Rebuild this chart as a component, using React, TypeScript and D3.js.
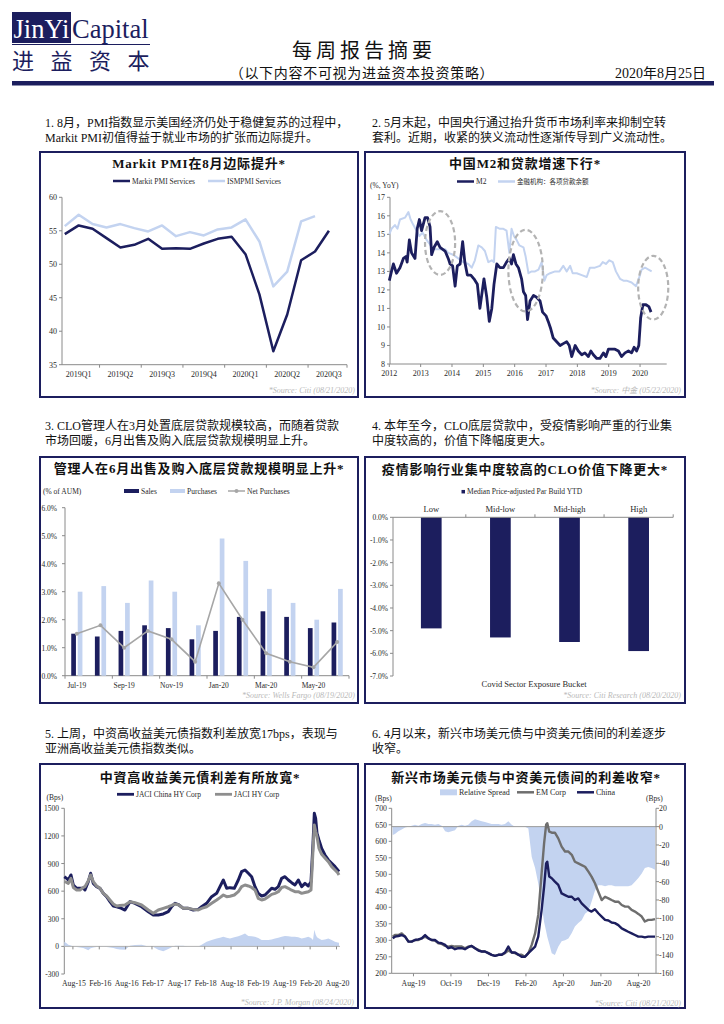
import React from "react";
import * as d3 from "d3";

// ---------- style constants ----------
const NAVY = "#1c1e5e";
const LIGHT = "#c3d3f0";
const GREY = "#8e8e8e";
const AXIS = "#8a8a8a";
const INK = "#2a2a2a";
const SRC = "#b9b9b9";
const SERIF = "'Liberation Serif','Times New Roman',serif";
const MIX = "'Liberation Serif','Noto Sans CJK SC',serif";
const MIX_TC = "'Liberation Serif','Noto Sans CJK TC',serif";

// ---------- header & commentary ----------
const reportTitle = "每周报告摘要";
const reportSubtitle = "（以下内容不可视为进益资本投资策略）";
const reportDate = "2020年8月25日";
const para1 = ["1. 8月，PMI指数显示美国经济仍处于稳健复苏的过程中，", "Markit PMI初值得益于就业市场的扩张而边际提升。"];
const para2 = ["2. 5月末起，中国央行通过抬升货币市场利率来抑制空转", "套利。近期，收紧的狭义流动性逐渐传导到广义流动性。"];
const para3 = ["3. CLO管理人在3月处置底层贷款规模较高，而随着贷款", "市场回暖，6月出售及购入底层贷款规模明显上升。"];
const para4 = ["4. 本年至今，CLO底层贷款中，受疫情影响严重的行业集", "中度较高的，价值下降幅度更大。"];
const para5 = ["5. 上周，中资高收益美元债指数利差放宽17bps，表现与", "亚洲高收益美元债指数类似。"];
const para6 = ["6. 4月以来，新兴市场美元债与中资美元债间的利差逐步", "收窄。"];

// ---------- chart 1: PMI ----------
const pmiQuarters = ["2019Q1", "2019Q2", "2019Q3", "2019Q4", "2020Q1", "2020Q2", "2020Q3"];
const markitPMI = [54.5, 55.8, 55.3, 53.9, 52.5, 52.9, 53.8, 52.3, 52.4, 52.3, 53.1, 53.8, 54.1, 51.5, 45.5, 37.0, 42.5, 50.6, 51.9, 55.0];
const ismPMI = [55.7, 57.4, 56.0, 55.5, 56.0, 55.4, 54.9, 55.8, 54.2, 54.8, 54.3, 55.2, 55.5, 56.7, 53.4, 46.7, 48.9, 56.4, 57.2];

// ---------- chart 2: M2 & loans ----------
const m2Years = ["2012", "2013", "2014", "2015", "2016", "2017", "2018", "2019", "2020"];
const m2Series: [number, number][] = [[2012.00,12.5],[2012.07,13.0],[2012.13,13.4],[2012.23,12.9],[2012.34,13.2],[2012.45,13.7],[2012.53,13.8],[2012.57,13.5],[2012.64,14.7],[2012.71,14.0],[2012.82,13.7],[2012.89,15.3],[2012.96,15.8],[2013.03,15.2],[2013.14,15.9],[2013.22,15.9],[2013.30,15.4],[2013.35,13.9],[2013.43,14.3],[2013.53,14.6],[2013.62,14.3],[2013.78,14.1],[2013.88,13.7],[2013.94,13.4],[2014.02,13.3],[2014.10,12.2],[2014.17,13.3],[2014.26,13.4],[2014.34,14.6],[2014.41,13.5],[2014.49,12.8],[2014.60,12.8],[2014.70,12.6],[2014.81,12.3],[2014.89,11.0],[2015.02,12.6],[2015.11,11.6],[2015.19,10.3],[2015.27,11.0],[2015.34,12.3],[2015.43,13.4],[2015.53,13.2],[2015.64,13.2],[2015.74,13.5],[2015.83,13.7],[2015.90,13.4],[2015.96,13.9],[2016.04,13.4],[2016.12,13.2],[2016.22,12.6],[2016.28,11.9],[2016.35,11.7],[2016.41,10.4],[2016.49,11.4],[2016.60,11.7],[2016.70,11.6],[2016.81,11.4],[2016.89,10.8],[2017.00,10.6],[2017.07,10.3],[2017.15,9.9],[2017.23,9.4],[2017.34,9.2],[2017.45,9.0],[2017.55,9.1],[2017.66,9.2],[2017.74,9.0],[2017.82,8.4],[2017.93,9.0],[2018.03,8.7],[2018.14,8.5],[2018.24,8.6],[2018.35,8.4],[2018.43,8.7],[2018.51,8.5],[2018.62,8.3],[2018.72,8.3],[2018.83,8.6],[2018.91,8.4],[2018.99,8.8],[2019.10,8.8],[2019.20,8.8],[2019.31,8.7],[2019.41,8.4],[2019.52,8.6],[2019.63,8.7],[2019.73,8.6],[2019.81,8.9],[2019.89,8.7],[2019.96,9.0],[2020.02,10.5],[2020.09,11.2],[2020.19,11.2],[2020.28,11.1],[2020.35,10.8]];
const loanSeries: [number, number][] = [[2012.00,15.0],[2012.07,15.3],[2012.18,15.5],[2012.26,15.3],[2012.34,15.8],[2012.50,15.9],[2012.61,16.2],[2012.68,15.8],[2012.77,15.5],[2012.87,15.2],[2012.96,14.9],[2013.06,15.1],[2013.19,14.7],[2013.28,14.5],[2013.35,14.3],[2013.46,14.2],[2013.62,14.2],[2013.78,14.2],[2013.88,14.0],[2014.04,13.9],[2014.20,13.7],[2014.36,13.5],[2014.52,13.4],[2014.63,13.2],[2014.73,13.6],[2014.84,14.4],[2014.95,14.3],[2015.05,14.1],[2015.16,13.5],[2015.27,13.6],[2015.34,13.5],[2015.40,15.4],[2015.53,15.3],[2015.64,15.3],[2015.74,15.2],[2015.83,14.0],[2015.90,15.3],[2015.98,14.9],[2016.06,14.7],[2016.15,14.4],[2016.28,14.3],[2016.35,13.8],[2016.44,12.9],[2016.54,13.0],[2016.65,13.0],[2016.76,13.1],[2016.86,13.5],[2016.95,12.5],[2017.02,12.8],[2017.13,12.9],[2017.29,13.0],[2017.43,13.0],[2017.55,13.3],[2017.66,13.0],[2017.77,13.3],[2017.85,12.9],[2017.98,12.9],[2018.14,12.8],[2018.30,12.7],[2018.40,13.2],[2018.56,13.2],[2018.72,13.3],[2018.81,13.5],[2018.91,13.4],[2019.02,13.6],[2019.13,13.5],[2019.23,13.0],[2019.36,12.6],[2019.47,12.5],[2019.57,12.5],[2019.73,12.4],[2019.87,12.2],[2019.98,12.7],[2020.05,13.1],[2020.16,13.2],[2020.27,13.1],[2020.37,13.0]];
const m2Highlights = [
  { cx: 2013.62, cy: 14.53, rx: 0.48, ry: 1.72 },
  { cx: 2016.35, cy: 13.04, rx: 0.55, ry: 2.2 },
  { cx: 2020.42, cy: 12.12, rx: 0.48, ry: 1.72 },
];

// ---------- chart 3: CLO sales & purchases ----------
const cloMonths = ["Jul-19", "Aug-19", "Sep-19", "Oct-19", "Nov-19", "Dec-19", "Jan-20", "Feb-20", "Mar-20", "Apr-20", "May-20", "Jun-20"];
const cloSales = [1.5, 1.4, 1.6, 1.8, 1.7, 1.3, 1.6, 2.1, 2.3, 2.1, 1.7, 1.9];
const cloPurchases = [3.0, 3.2, 2.6, 3.4, 3.0, 1.8, 4.9, 4.1, 3.1, 2.6, 2.0, 3.1];
const cloNet = [1.5, 1.8, 1.0, 1.6, 1.3, 0.5, 3.3, 2.0, 0.8, 0.5, 0.3, 1.2];

// ---------- chart 4: par build by bucket ----------
const buckets = ["Low", "Mid-low", "Mid-high", "High"];
const parBuild = [-4.9, -5.3, -5.5, -5.9];

// ---------- chart 5: JACI spreads ----------
const jaciTicks = ["Aug-15", "Feb-16", "Aug-16", "Feb-17", "Aug-17", "Feb-18", "Aug-18", "Feb-19", "Aug-19", "Feb-20", "Aug-20"];
const jaciDates = [2015.420,2015.464,2015.496,2015.546,2015.591,2015.654,2015.717,2015.780,2015.812,2015.875,2015.920,2015.970,2016.033,2016.097,2016.160,2016.223,2016.286,2016.350,2016.413,2016.476,2016.571,2016.666,2016.761,2016.887,2017.014,2017.108,2017.203,2017.298,2017.393,2017.456,2017.520,2017.595,2017.678,2017.773,2017.867,2017.962,2018.025,2018.120,2018.215,2018.310,2018.373,2018.437,2018.500,2018.563,2018.645,2018.721,2018.784,2018.848,2018.911,2018.974,2019.037,2019.100,2019.164,2019.227,2019.290,2019.353,2019.417,2019.480,2019.543,2019.606,2019.670,2019.733,2019.796,2019.859,2019.923,2019.986,2020.049,2020.100,2020.138,2020.163,2020.188,2020.214,2020.251,2020.302,2020.365,2020.429,2020.492,2020.555,2020.606,2020.631];
const jaciChina = [757,739,721,776,667,631,631,631,613,703,794,685,649,631,576,540,486,439,431,420,395,486,468,431,377,341,341,352,377,431,468,450,413,413,395,402,431,468,540,576,649,721,631,638,631,721,812,830,794,757,649,576,547,558,594,631,620,649,739,757,721,692,667,721,649,685,656,703,1120,1446,1391,1228,1156,1065,993,939,902,866,830,812];
const jaciHY = [703,695,685,739,640,613,613,640,649,714,776,703,656,631,576,547,504,461,439,445,450,486,475,450,395,359,395,413,431,445,461,450,413,413,402,395,413,431,468,504,530,558,540,545,558,594,649,667,656,640,613,522,504,515,540,565,576,594,640,649,631,610,594,594,576,585,594,613,1047,1319,1250,1192,1065,1000,960,920,866,830,800,776];
const jaciDiff = [51,35,18,10,0,-7,-12,-18,-25,-43,-20,-11,-8,-7,-5,-7,-12,-18,-29,-33,-36,7,14,18,0,-7,-36,-54,-29,-10,7,7,7,0,0,0,18,51,69,87,95,105,95,87,98,110,123,141,112,110,105,90,69,69,69,75,87,95,105,112,110,105,105,100,87,95,105,90,69,181,130,100,87,69,75,87,70,51,43,40];

// ---------- chart 6: EM vs China ----------
const emTicks = ["Aug-19", "Oct-19", "Dec-19", "Feb-20", "Apr-20", "Jun-20", "Aug-20"];
const emDates = [2019.491,2019.501,2019.516,2019.531,2019.546,2019.561,2019.575,2019.590,2019.605,2019.620,2019.635,2019.650,2019.664,2019.679,2019.694,2019.709,2019.724,2019.738,2019.753,2019.768,2019.783,2019.798,2019.812,2019.827,2019.842,2019.857,2019.872,2019.887,2019.901,2019.916,2019.931,2019.946,2019.961,2019.975,2019.990,2020.005,2020.020,2020.035,2020.050,2020.064,2020.079,2020.094,2020.109,2020.124,2020.138,2020.153,2020.164,2020.173,2020.178,2020.187,2020.198,2020.212,2020.227,2020.242,2020.257,2020.272,2020.287,2020.301,2020.316,2020.331,2020.346,2020.361,2020.375,2020.390,2020.405,2020.420,2020.435,2020.450,2020.464,2020.479,2020.494,2020.509,2020.524,2020.538,2020.553,2020.568,2020.583,2020.598,2020.612,2020.627,2020.642,2020.657];
const emChina = [306,311,313,316,311,296,296,301,303,306,316,306,301,301,293,291,286,276,279,273,276,276,273,279,283,276,269,266,266,261,256,253,256,256,263,281,263,263,256,250,250,261,271,281,311,392,463,533,538,493,488,478,468,442,437,432,432,422,427,412,402,392,387,394,382,372,362,360,354,352,346,336,331,326,321,316,311,311,309,311,311,311];
const emCorp = [311,316,316,321,311,296,296,301,301,306,311,306,301,299,291,289,283,281,283,281,281,281,276,281,283,276,271,266,266,261,256,253,256,256,261,269,263,261,256,256,250,261,286,321,377,503,594,650,655,629,626,626,609,584,569,569,559,538,533,528,523,508,493,473,447,422,432,427,422,417,417,407,402,402,392,387,380,372,357,362,362,364];
const emRelative = [-9,-8,-5,-3,-1,0,1,2,1,3,4,3,3,2,3,1,-5,-6,-5,-4,1,2,1,2,6,8,7,6,5,4,3,3,3,2,3,6,2,0,0,0,0,-2,-33,-45,-62,-85,-104,-114,-120,-128,-138,-140,-131,-125,-124,-122,-116,-109,-105,-102,-95,-92,-82,-70,-64,-64,-65,-64,-64,-65,-65,-65,-65,-65,-64,-60,-56,-51,-45,-44,-45,-47];

// ---------- helpers ----------
const labelToYear = (label: string) => {
  const d = d3.timeParse("%b-%y")(label) as Date;
  return d.getFullYear() + d.getMonth() / 12;
};

function Box({ x, y, w, h }: { x: number; y: number; w: number; h: number }) {
  return <rect x={x} y={y} width={w} height={h} fill="#fff" stroke={NAVY} strokeWidth={2} />;
}
function Title({ x, y, text, tc }: { x: number; y: number; text: string; tc?: boolean }) {
  return (
    <text x={x} y={y} textAnchor="middle" fontSize={13} fontWeight={700} letterSpacing={0.8} fill="#111" fontFamily={tc ? MIX_TC : MIX}>
      {text}
    </text>
  );
}
function Source({ x, y, text }: { x: number; y: number; text: string }) {
  return (
    <text x={x} y={y} textAnchor="end" fontSize={8} fontStyle="italic" fill={SRC} fontFamily={MIX}>
      {text}
    </text>
  );
}
function LegendLine({ x, y, color, label, w = 17, sw = 2.5, size = 7.5, dot }: any) {
  return (
    <g>
      <line x1={x} x2={x + w} y1={y} y2={y} stroke={color} strokeWidth={sw} />
      {dot && <circle cx={x + w / 2} cy={y} r={2} fill={color} />}
      <text x={x + w + 2} y={y + 2.7} fontSize={size} fill={INK} fontFamily={MIX}>
        {label}
      </text>
    </g>
  );
}
function LegendRect({ x, y, w, h, color, label, size = 7.5 }: any) {
  return (
    <g>
      <rect x={x} y={y - h / 2} width={w} height={h} fill={color} />
      <text x={x + w + 2} y={y + 2.7} fontSize={size} fill={INK} fontFamily={MIX}>
        {label}
      </text>
    </g>
  );
}

// ---------- header ----------
function Header() {
  return (
    <g>
      <rect x={12} y={12} width={59} height={31} fill={NAVY} />
      <text x={13.5} y={37.5} fontSize={26.5} fill="#fff" fontFamily={SERIF}>JinYi</text>
      <text x={72} y={37.5} fontSize={26.5} fill={NAVY} fontFamily={SERIF}>Capital</text>
      <line x1={12} x2={150} y1={44.5} y2={44.5} stroke={NAVY} strokeWidth={1} />
      <text x={12} y={69} fontSize={22} fill={NAVY} letterSpacing={16.5} fontFamily="'Noto Sans CJK SC'">进益资本</text>
      <text x={364} y={58} textAnchor="middle" fontSize={20} letterSpacing={4} fill="#111" fontFamily="'Noto Sans CJK SC'">{reportTitle}</text>
      <text x={362} y={77.5} textAnchor="middle" fontSize={14} letterSpacing={0.7} fill="#111" fontFamily="'Noto Sans CJK SC'">{reportSubtitle}</text>
      <text x={706} y={77.5} textAnchor="end" fontSize={14} fill="#111" fontFamily={MIX}>{reportDate}</text>
      <rect x={12} y={81} width={702} height={4.5} fill={NAVY} />
    </g>
  );
}

function Para({ x, y, lines }: { x: number; y: number; lines: string[] }) {
  return (
    <text fontSize={12} fill="#111" fontFamily={MIX}>
      {lines.map((l, i) => (
        <tspan key={i} x={x} y={y + i * 15}>{l}</tspan>
      ))}
    </text>
  );
}

// ---------- chart 1 ----------
function Chart1() {
  const x = d3.scaleLinear().domain([-0.2, 20.3]).range([62, 347]);
  const y = d3.scaleLinear().domain([35, 60]).range([364.7, 197.3]);
  const ln = d3.line<number>().x((_, i) => x(i)).y((d) => y(d));
  return (
    <g fontFamily={SERIF}>
      <Box x={40} y={152} w={318} h={245} />
      <Title x={199} y={168} text="Markit  PMI在8月边际提升*" />
      <LegendLine x={113} y={181} color={NAVY} label="Markit PMI Services" />
      <LegendLine x={208} y={181} color={LIGHT} label="ISMPMI Services" />
      {y.ticks(5).map((t) => (
        <g key={t}>
          <line x1={59} x2={62} y1={y(t)} y2={y(t)} stroke={AXIS} />
          <text x={57} y={y(t) + 3} textAnchor="end" fontSize={8} fill={INK}>{t}</text>
        </g>
      ))}
      <line x1={62} x2={62} y1={y(60)} y2={y(35)} stroke={AXIS} />
      <line x1={62} x2={347} y1={y(35)} y2={y(35)} stroke={AXIS} />
      {pmiQuarters.map((q, k) => (
        <g key={q}>
          <line x1={Math.min(x(3 * k + 2.5), 347)} x2={Math.min(x(3 * k + 2.5), 347)} y1={y(35)} y2={y(35) + 3} stroke={AXIS} />
          <text x={x(3 * k + 1)} y={376.5} textAnchor="middle" fontSize={8} fill={INK}>{q}</text>
        </g>
      ))}
      <path d={ln(ismPMI) || ""} fill="none" stroke={LIGHT} strokeWidth={2.5} strokeLinejoin="round" />
      <path d={ln(markitPMI) || ""} fill="none" stroke={NAVY} strokeWidth={2.5} strokeLinejoin="round" />
      <Source x={355} y={392.5} text="*Source: Citi (08/21/2020)" />
    </g>
  );
}

// ---------- chart 2 ----------
function Chart2() {
  const x = d3.scaleLinear().domain([2012, 2020.85]).range([389.3, 666.7]);
  const y = d3.scaleLinear().domain([8, 17]).range([364, 197.3]);
  const ln = d3.line<[number, number]>().x((d) => x(d[0])).y((d) => y(d[1]));
  const sx = x(1) - x(0);
  const sy = y(0) - y(1);
  return (
    <g fontFamily={SERIF}>
      <Box x={365} y={152} w={320} h={245} />
      <Title x={525} y={168} text="中国M2和贷款增速下行*" />
      <text x={370} y={188} fontSize={7.5} fill={INK}>(%, YoY)</text>
      <LegendLine x={457} y={181.5} color={NAVY} label="M2" />
      <LegendLine x={498} y={181.5} color={LIGHT} label="金融机构：各项贷款余额" size={6.5} />
      {d3.range(8, 18).map((t) => (
        <g key={t}>
          <line x1={387} x2={390} y1={y(t)} y2={y(t)} stroke={AXIS} />
          <text x={385} y={y(t) + 3} textAnchor="end" fontSize={8} fill={INK}>{t}</text>
        </g>
      ))}
      <line x1={390} x2={390} y1={y(17)} y2={y(8)} stroke={AXIS} />
      <line x1={390} x2={666.7} y1={y(8)} y2={y(8)} stroke={AXIS} />
      {m2Years.map((yr) => (
        <g key={yr}>
          <line x1={x(+yr)} x2={x(+yr)} y1={y(8)} y2={y(8) + 3} stroke={AXIS} />
          <text x={x(+yr)} y={375.5} textAnchor="middle" fontSize={8} fill={INK}>{yr}</text>
        </g>
      ))}
      <path d={ln(loanSeries) || ""} fill="none" stroke={LIGHT} strokeWidth={2} strokeLinejoin="round" />
      <path d={ln(m2Series) || ""} fill="none" stroke={NAVY} strokeWidth={2.8} strokeLinejoin="round" />
      {m2Highlights.map((e, i) => (
        <ellipse key={i} cx={x(e.cx)} cy={y(e.cy)} rx={e.rx * sx} ry={e.ry * sy} fill="none" stroke="#b3b3b3" strokeWidth={2.2} strokeDasharray="5 3" />
      ))}
      <Source x={681} y={392.5} text="*Source: 中金 (05/22/2020)" />
    </g>
  );
}

// ---------- chart 3 ----------
function Chart3() {
  const x = d3.scaleBand().domain(cloMonths).range([65, 349]);
  const y = d3.scaleLinear().domain([0, 6]).range([675.7, 507.7]);
  const bw = x.bandwidth();
  const c = (m: string) => (x(m) as number) + bw / 2;
  const ln = d3.line<number>().x((_, i) => c(cloMonths[i])).y((d) => y(d));
  return (
    <g fontFamily={SERIF}>
      <Box x={40} y={457} w={318} h={246} />
      <Title x={199} y={473} text="管理人在6月出售及购入底层贷款规模明显上升*" />
      <text x={43} y={494} fontSize={7.5} fill={INK}>(% of AUM)</text>
      <LegendRect x={124} y={491} w={15} h={4} color={NAVY} label="Sales" />
      <LegendRect x={170} y={491} w={15} h={4} color={LIGHT} label="Purchases" />
      <LegendLine x={228} y={491} w={17} sw={1.5} color="#a6a6a6" label="Net Purchases" dot />
      {d3.range(0, 7).map((t) => (
        <g key={t}>
          <line x1={62} x2={65} y1={y(t)} y2={y(t)} stroke={AXIS} />
          <text x={57} y={y(t) + 3} textAnchor="end" fontSize={7.5} fill={INK}>{t.toFixed(1)}%</text>
        </g>
      ))}
      <line x1={65} x2={65} y1={y(6)} y2={y(0)} stroke={AXIS} />
      <line x1={65} x2={349} y1={y(0)} y2={y(0)} stroke={AXIS} />
      {cloMonths.map((m, i) => (
        <g key={m}>
          {i % 2 === 0 && <line x1={x(m)} x2={x(m)} y1={y(0)} y2={y(0) + 3} stroke={AXIS} />}
          {i % 2 === 0 && <text x={c(m)} y={688} textAnchor="middle" fontSize={7.5} fill={INK}>{m}</text>}
          <rect x={c(m) - 5.6} y={y(cloSales[i])} width={4.7} height={y(0) - y(cloSales[i])} fill={NAVY} />
          <rect x={c(m) + 0.9} y={y(cloPurchases[i])} width={4.7} height={y(0) - y(cloPurchases[i])} fill={LIGHT} />
        </g>
      ))}
      <line x1={349} x2={349} y1={y(0)} y2={y(0) + 3} stroke={AXIS} />
      <path d={ln(cloNet) || ""} fill="none" stroke="#a6a6a6" strokeWidth={1.6} />
      {cloNet.map((v, i) => (
        <circle key={i} cx={c(cloMonths[i])} cy={y(v)} r={2} fill="#a6a6a6" />
      ))}
      <Source x={355} y={698} text="*Source: Wells Fargo (08/19/2020)" />
    </g>
  );
}

// ---------- chart 4 ----------
function Chart4() {
  const x = d3.scaleBand().domain(buckets).range([396.7, 673.2]);
  const y = d3.scaleLinear().domain([-7, 0]).range([676, 517.3]);
  const bw = 20.7;
  return (
    <g fontFamily={SERIF}>
      <Box x={365} y={457} w={320} h={246} />
      <Title x={525} y={474} text="疫情影响行业集中度较高的CLO价值下降更大*" />
      <LegendRect x={461.5} y={491.7} w={3.5} h={3.5} color={NAVY} label="Median Price-adjusted Par Build YTD" />
      {d3.range(-7, 0.5, 1).map((t) => (
        <g key={t}>
          <line x1={390} x2={393} y1={y(t)} y2={y(t)} stroke={AXIS} />
          <text x={388} y={y(t) + 3} textAnchor="end" fontSize={7.5} fill={INK}>{t.toFixed(1)}%</text>
        </g>
      ))}
      <line x1={393} x2={393} y1={y(0)} y2={y(-7)} stroke={AXIS} />
      {parBuild.map((v, i) => {
        const b = buckets[i];
        const cx = (x(b) as number) + x.bandwidth() / 2;
        return (
          <g key={b}>
            <rect x={cx - bw / 2} y={y(0)} width={bw} height={y(v) - y(0)} fill={NAVY} />
            <text x={cx} y={512} textAnchor="middle" fontSize={8.5} fill={INK}>{b}</text>
            <line x1={(x(b) as number) + x.bandwidth()} x2={(x(b) as number) + x.bandwidth()} y1={y(0)} y2={y(0) - 3} stroke={AXIS} />
          </g>
        );
      })}
      <line x1={393} x2={673.2} y1={y(0)} y2={y(0)} stroke={AXIS} />
      <text x={534} y={687} textAnchor="middle" fontSize={8.5} fill={INK}>Covid Sector Exposure Bucket</text>
      <Source x={681} y={698} text="*Source: Citi Research (08/20/2020)" />
    </g>
  );
}

// ---------- chart 5 ----------
function Chart5() {
  const x = d3.scaleLinear().domain([2015.42, 2020.65]).range([64.3, 340]);
  const y = d3.scaleLinear().domain([-300, 1500]).range([974, 808.3]);
  const ln = (vals: number[]) => d3.line<number>().x((_, i) => x(jaciDates[i])).y((d) => y(d))(vals) || "";
  const ar = d3.area<number>().x((_, i) => x(jaciDates[i])).y0(y(0)).y1((d) => y(d));
  return (
    <g fontFamily={SERIF}>
      <Box x={40} y={764} w={318} h={244} />
      <Title x={200} y={782} text="中資高收益美元債利差有所放寬*" tc />
      <text x={46.5} y={799.5} fontSize={7.5} fill={INK}>(Bps)</text>
      <LegendLine x={117} y={794.3} color={NAVY} label="JACI China HY Corp" sw={2.8} />
      <LegendLine x={215} y={794.3} color={GREY} label="JACI HY Corp" sw={2.8} />
      {d3.range(-300, 1501, 300).map((t) => (
        <g key={t}>
          <line x1={61.3} x2={64.3} y1={y(t)} y2={y(t)} stroke={AXIS} />
          <text x={59} y={y(t) + 3} textAnchor="end" fontSize={7.5} fill={INK}>{t}</text>
        </g>
      ))}
      <line x1={64.3} x2={64.3} y1={y(1500)} y2={y(-300)} stroke={AXIS} />
      <path d={ar(jaciDiff) || ""} fill={LIGHT} />
      <line x1={64.3} x2={340} y1={y(0)} y2={y(0)} stroke="#b0b0b0" />
      {jaciTicks.map((t) => (
        <g key={t}>
          <line x1={x(labelToYear(t))} x2={x(labelToYear(t))} y1={y(0)} y2={y(0) + 3} stroke={AXIS} />
          <text x={x(labelToYear(t)) + 1} y={986} textAnchor="middle" fontSize={7.8} fill={INK}>{t}</text>
        </g>
      ))}
      <path d={ln(jaciChina)} fill="none" stroke={NAVY} strokeWidth={3} strokeLinejoin="round" />
      <path d={ln(jaciHY)} fill="none" stroke={GREY} strokeWidth={3} strokeLinejoin="round" />
      <Source x={354} y={1005} text="*Source: J.P. Morgan (08/24/2020)" />
    </g>
  );
}

// ---------- chart 6 ----------
function Chart6() {
  const x = d3.scaleLinear().domain([2019.491, 2020.657]).range([392.7, 655]);
  const yL = d3.scaleLinear().domain([200, 700]).range([973.3, 808.3]);
  const yR = d3.scaleLinear().domain([-160, 20]).range([973.3, 808.3]);
  const ln = (vals: number[]) => d3.line<number>().x((_, i) => x(emDates[i])).y((d) => yL(d))(vals) || "";
  const ar = d3.area<number>().x((_, i) => x(emDates[i])).y0(yR(0)).y1((d) => yR(d));
  return (
    <g fontFamily={SERIF}>
      <Box x={365} y={764} w={320} h={244} />
      <Title x={526} y={782} text="新兴市场美元债与中资美元债间的利差收窄*" />
      <text x={375} y={801} fontSize={7.5} fill={INK}>(Bps)</text>
      <text x={646} y={801} fontSize={7.5} fill={INK}>(Bps)</text>
      <LegendRect x={440} y={792.3} w={17} h={6} color={LIGHT} label="Relative Spread" size={8} />
      <LegendLine x={517} y={792.3} color="#6e6e6e" label="EM Corp" size={8} />
      <LegendLine x={577} y={792.3} color={NAVY} label="China" size={8} />
      <path d={ar(emRelative) || ""} fill={LIGHT} />
      <line x1={391.7} x2={656} y1={yR(0)} y2={yR(0)} stroke="#9a9a9a" />
      {d3.range(200, 701, 50).map((t) => (
        <g key={t}>
          <line x1={388.7} x2={391.7} y1={yL(t)} y2={yL(t)} stroke={AXIS} />
          <text x={387} y={yL(t) + 3} textAnchor="end" fontSize={7.8} fill={INK}>{t}</text>
        </g>
      ))}
      {d3.range(-160, 21, 20).map((t) => (
        <g key={t}>
          <line x1={656} x2={659} y1={yR(t)} y2={yR(t)} stroke={AXIS} />
          <text x={659} y={yR(t) + 3} fontSize={7.8} fill={INK}>{t}</text>
        </g>
      ))}
      <line x1={391.7} x2={391.7} y1={yL(700)} y2={yL(200)} stroke={AXIS} />
      <line x1={656} x2={656} y1={yL(700)} y2={yL(200)} stroke={AXIS} />
      <line x1={391.7} x2={656} y1={yL(200)} y2={yL(200)} stroke={AXIS} />
      {emTicks.map((t) => (
        <g key={t}>
          <line x1={x(labelToYear(t))} x2={x(labelToYear(t))} y1={yL(200)} y2={yL(200) + 3} stroke={AXIS} />
          <text x={x(labelToYear(t))} y={985.5} textAnchor="middle" fontSize={7.8} fill={INK}>{t}</text>
        </g>
      ))}
      <path d={ln(emCorp)} fill="none" stroke="#6e6e6e" strokeWidth={2.4} strokeLinejoin="round" />
      <path d={ln(emChina)} fill="none" stroke={NAVY} strokeWidth={2.4} strokeLinejoin="round" />
      <Source x={681} y={1006} text="*Source: Citi (08/21/2020)" />
    </g>
  );
}

export default function App() {
  return (
    <div style={{ position: "absolute", left: 0, top: 0, width: 724, height: 1024, background: "#fff" }}>
      <svg width={724} height={1024} style={{ display: "block" }}>
        <rect x={0} y={0} width={724} height={1024} fill="#fff" />
        <Header />
        <Para x={45} y={126.5} lines={para1} />
        <Para x={372} y={126.5} lines={para2} />
        <Para x={45} y={430} lines={para3} />
        <Para x={372} y={430} lines={para4} />
        <Para x={45} y={738} lines={para5} />
        <Para x={372} y={738} lines={para6} />
        <Chart1 />
        <Chart2 />
        <Chart3 />
        <Chart4 />
        <Chart5 />
        <Chart6 />
      </svg>
    </div>
  );
}
